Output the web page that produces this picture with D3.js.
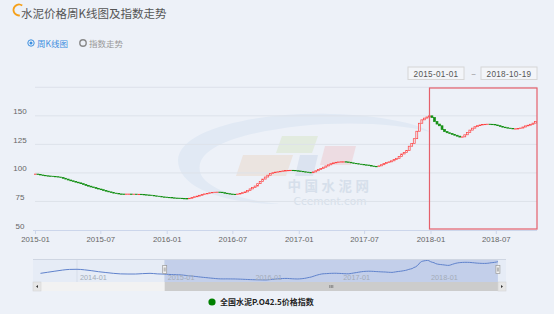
<!DOCTYPE html>
<html>
<head>
<meta charset="utf-8">
<script src="https://cdn.jsdelivr.net/npm/d3@7"></script>
<style>
body{margin:0;background:#edf1f8;}
svg{display:block;font-family:"Liberation Sans","Noto Sans CJK SC",sans-serif;}
</style>
</head>
<body>
<svg width="554" height="314"></svg>
<script>
// weekly closing values of the index, first week ends 2015-01-02
var firstWeek = "2015-01-02"
var closes = [
 99.0, 98.6, 98.2, 97.8, 97.5, 97.3, 97.1, 96.9, 96.7, 96.4,
 96.0, 95.3, 94.6, 93.8, 93.1, 92.5, 91.9, 91.3, 90.6, 89.9,
 89.1, 88.4, 87.7, 87.1, 86.5, 85.9, 85.3, 84.6, 84.0, 83.4,
 82.8, 82.3, 81.9, 81.6, 81.5, 81.4, 81.5, 81.5, 81.4, 81.4,
 81.3, 81.3, 81.1, 80.9, 80.7, 80.5, 80.2, 79.9, 79.6, 79.3,
 79.0, 78.8, 78.6, 78.4, 78.2, 78.0, 77.9, 77.8, 77.6, 77.5,
 77.4, 77.8, 78.5, 79.1, 79.7, 80.4, 81.1, 81.6, 82.1, 82.6,
 82.9, 83.1, 83.2, 83.1, 82.7, 82.2, 81.8, 81.5, 81.3, 81.2,
 81.5, 82.0, 82.7, 83.4, 84.6, 86.0, 87.2, 88.5, 90.6, 92.6,
 94.6, 96.4, 98.0, 99.4, 100.2, 100.7, 101.0, 101.4, 101.8, 102.0,
 102.2, 102.3, 102.2, 101.9, 101.7, 101.4, 101.0, 100.7, 100.4, 100.2,
 100.9, 101.9, 103.0, 104.0, 105.0, 106.1, 107.1, 108.1, 108.8, 109.3,
 109.6, 109.8, 109.8, 109.6, 109.3, 108.8, 108.4, 108.1, 107.7, 107.4,
 107.1, 106.9, 106.4, 106.0, 105.7, 105.5, 106.2, 107.2, 108.2, 109.0,
 109.7, 110.6, 111.8, 112.8, 114.5, 116.6, 118.0, 119.6, 123.4, 125.7,
 130.0, 136.5, 143.5, 146.5, 148.0, 149.0, 150.0, 148.5, 145.0, 142.8,
 141.3, 138.0, 136.2, 135.2, 134.5, 133.8, 133.0, 132.2, 131.4, 131.6,
 133.4, 135.5, 137.5, 139.2, 140.5, 141.4, 142.0, 142.4, 142.6, 142.7,
 142.6, 142.5, 142.0, 141.4, 140.8, 140.1, 139.6, 139.2, 138.9, 138.7,
 138.7, 138.8, 139.3, 140.2, 141.2, 141.8, 142.6, 143.6, 145.0
]

// earlier history shown only in the navigator
var navDates = ["2013-08-02","2013-09-01","2013-10-01","2013-11-01","2013-12-01","2014-01-01",
 "2014-02-01","2014-03-01","2014-04-01","2014-05-01","2014-06-01","2014-07-01",
 "2014-08-01","2014-09-01","2014-10-01","2014-11-01","2014-12-01"]
var navValues = [102, 106, 110, 114, 116.5, 117, 115, 112, 108, 105, 102, 100, 99.5, 99.5, 101, 102, 100]

var yTicks = [50, 75, 100, 125, 150, 175]
var xTicks = ["2015-01","2015-07","2016-01","2016-07","2017-01","2017-07","2018-01","2018-07"]
var navTicks = ["2014-01","2015-01","2016-01","2017-01","2018-01"]
var rangeDates = ["2015-01-01","2018-10-19"]
var boxStart = "2018-01-01"
var title = "水泥价格周K线图及指数走势"
var tabs = ["周K线图","指数走势"]
var legendLabel = "全国水泥P.O42.5价格指数"

var parseDay = d3.timeParse("%Y-%m-%d")
var parseMonth = d3.timeParse("%Y-%m")
var up = "#ff4242", down = "#138f13"

var candles = closes.map(function(c, i){
    var o = i == 0 ? c : closes[i-1]
    return {date: d3.timeDay.offset(parseDay(firstWeek), 7*i), open: o, close: c}
})

var svg = d3.select("svg")

// ---- header ----
svg.append("path")
    .attr("transform","translate(19,10)")
    .attr("fill","#f5a01a")
    .attr("d", d3.arc().innerRadius(4.6).outerRadius(6.4).startAngle(Math.PI*0.95).endAngle(Math.PI*2.2)())

svg.append("text")
    .attr("x",21).attr("y",18)
    .attr("font-family","'Noto Sans CJK SC'")
    .attr("font-size",11.5).attr("fill","#555")
    .text(title)

var tabX = [31, 83]
var tabG = svg.selectAll(".tab").data(tabs).enter().append("g").attr("class","tab")
tabG.append("circle")
    .attr("cx",function(d,i){return tabX[i]}).attr("cy",43).attr("r",3.2)
    .attr("fill","none")
    .attr("stroke",function(d,i){return i==0?"#3d8fe0":"#888"})
    .attr("stroke-width",function(d,i){return i==0?1:1.4})
tabG.filter(function(d,i){return i==0}).append("circle")
    .attr("cx",tabX[0]).attr("cy",43).attr("r",1.5).attr("fill","#3d8fe0")
tabG.append("text")
    .attr("x",function(d,i){return tabX[i]+6}).attr("y",46.5)
    .attr("font-family","'Noto Sans CJK SC'").attr("font-size",8.5)
    .attr("fill",function(d,i){return i==0?"#3d8fe0":"#999"})
    .text(function(d){return d})

var boxX = [408, 481]
var dateG = svg.selectAll(".dbox").data(rangeDates).enter().append("g").attr("class","dbox")
dateG.append("rect")
    .attr("x",function(d,i){return boxX[i]}).attr("y",67).attr("width",56).attr("height",12.5)
    .attr("fill","#f3f5f9").attr("stroke","#d6d6d6")
dateG.append("text")
    .attr("x",function(d,i){return boxX[i]+28}).attr("y",76.8)
    .attr("text-anchor","middle").attr("font-size",8.2).attr("fill","#555")
    .attr("letter-spacing",0.3)
    .text(function(d){return d})
svg.append("text").attr("x",473.5).attr("y",76.5).attr("text-anchor","middle")
    .attr("font-size",8).attr("fill","#888").text("~")

// ---- main chart ----
var plot = {left:35, right:537, top:87.3, bottom:230}
var xScale = d3.scaleTime()
    .domain([parseDay(rangeDates[0]), parseDay(rangeDates[1])])
    .range([plot.left, 535.5])
var yScale = d3.scaleLinear()
    .domain([50,175])
    .range([plot.bottom, plot.top])

// watermark
var wm = svg.append("g").attr("opacity",0.85)
wm.append("path")
    .attr("fill","#dfe8f4")
    .attr("d","M178,160 C180,128 260,112 330,114 C380,115 420,124 430,132 C400,124 350,121 300,126 C230,134 195,150 200,172 C204,188 240,200 280,204 C230,204 178,190 178,160 Z")
var quads = [
    {pts:"243,155 293,155 286,176 236,176", c:"#ebe2dc"},
    {pts:"282,136 318,136 312,153 276,153", c:"#e1eadb"},
    {pts:"300,155 318,155 313,176 295,176", c:"#d9e1ef"},
    {pts:"325,146 356,146 351,165 320,165", c:"#edd9df"}
]
wm.selectAll("polygon").data(quads).enter().append("polygon")
    .attr("points",function(d){return d.pts}).attr("fill",function(d){return d.c})
wm.append("text").attr("x",330).attr("y",190.5).attr("text-anchor","middle")
    .attr("font-family","'Noto Sans CJK SC'").attr("font-weight","bold")
    .attr("font-size",13.5).attr("letter-spacing",3.5).attr("fill","#d3dde9").text("中国水泥网")
wm.append("text").attr("x",330).attr("y",205).attr("text-anchor","middle")
    .attr("font-family","'DejaVu Sans'").attr("font-size",10.5)
    .attr("fill","#d3dde9").text("Ccement.com")

// grid
svg.append("g").selectAll("line").data(yTicks.slice(1)).enter().append("line")
    .attr("x1",plot.left).attr("x2",plot.right)
    .attr("y1",function(d){return yScale(d)}).attr("y2",function(d){return yScale(d)})
    .attr("stroke","#dde2ea")
svg.append("g").selectAll("text").data(yTicks.slice(0,-1)).enter().append("text")
    .attr("x",20).attr("y",function(d){return yScale(d)-1.5})
    .attr("text-anchor","middle").attr("font-size",8).attr("fill","#666")
    .text(function(d){return d})

var xAxis = d3.axisBottom(xScale)
    .tickValues(xTicks.map(function(d){return parseMonth(d)}))
    .tickFormat(d3.timeFormat("%Y-%m"))
    .tickSize(4).tickSizeOuter(0)
var xg = svg.append("g")
    .attr("transform","translate(0,"+plot.bottom+")")
    .call(xAxis)
xg.select(".domain").attr("d","M"+(plot.left-2)+",0.5H"+plot.right).attr("stroke","#ccd6eb")
xg.selectAll(".tick line").attr("stroke","#ccd6eb")
xg.selectAll(".tick text").attr("font-size",7.8).attr("fill","#666").attr("y",6.5)
    .attr("font-family","'Liberation Sans'")

// candles
var bw = 1.9
svg.append("g").selectAll("rect").data(candles).enter().append("rect")
    .attr("x",function(d){return xScale(d.date)-bw/2})
    .attr("y",function(d){return yScale(Math.max(d.open,d.close))})
    .attr("width",bw)
    .attr("height",function(d){return Math.max(0.4, yScale(Math.min(d.open,d.close))-yScale(Math.max(d.open,d.close)))})
    .attr("fill",function(d){return d.close>=d.open?"#edf1f8":down})
    .attr("stroke",function(d){return d.close>=d.open?up:down})
    .attr("stroke-width",0.7)

// highlight box
svg.append("rect")
    .attr("x",xScale(parseDay(boxStart))-1).attr("y",plot.top+0.7)
    .attr("width",plot.right-xScale(parseDay(boxStart))+1).attr("height",plot.bottom-plot.top-1.7)
    .attr("fill","none").attr("stroke","#e5606b").attr("stroke-width",1.2)

// ---- navigator ----
var nav = {left:33, right:506, top:259, bottom:282}
var navX = d3.scaleTime()
    .domain([parseMonth(navTicks[0]), parseMonth(navTicks[4])])
    .range([77,428])
var navY = d3.scaleLinear().domain([70,155]).range([nav.bottom, nav.top])
var navData = navDates.map(function(d,i){return {date:parseDay(d), close:navValues[i]}}).concat(candles)
var selX0 = navX(parseDay(rangeDates[0])), selX1 = navX(parseDay(rangeDates[1]))

svg.append("rect").attr("x",nav.left).attr("y",nav.top).attr("width",nav.right-nav.left)
    .attr("height",nav.bottom-nav.top).attr("fill","#e6ecf6")
svg.append("g").selectAll("line").data(navTicks).enter().append("line")
    .attr("x1",function(d){return navX(parseMonth(d))}).attr("x2",function(d){return navX(parseMonth(d))})
    .attr("y1",nav.top).attr("y2",nav.bottom).attr("stroke","#d7deea")
svg.append("rect").attr("x",selX0).attr("y",nav.top).attr("width",selX1-selX0)
    .attr("height",nav.bottom-nav.top).attr("fill","#c3cfea")
svg.append("path").datum(navData)
    .attr("fill","none").attr("stroke","#5f82cc").attr("stroke-width",1)
    .attr("d", d3.line().x(function(d){return navX(d.date)}).y(function(d){return navY(d.close)}).curve(d3.curveMonotoneX))
svg.append("line").attr("x1",nav.left).attr("x2",nav.right).attr("y1",nav.top+0.5).attr("y2",nav.top+0.5)
    .attr("stroke","#cfd6e2")
svg.append("g").selectAll("text").data(navTicks).enter().append("text")
    .attr("x",function(d){return navX(parseMonth(d))+3}).attr("y",280)
    .attr("font-size",7.3).attr("fill","#a4acb8")
    .text(function(d){return d})

// handles
var handles = [selX0, selX1]
var hg = svg.append("g").selectAll("g").data(handles).enter().append("g")
    .attr("transform",function(d){return "translate("+d+",0)"})
hg.append("rect").attr("x",-2).attr("y",265.5).attr("width",4).attr("height",8)
    .attr("fill","#f2f2f2").attr("stroke","#999").attr("stroke-width",0.7)
hg.append("line").attr("x1",-0.5).attr("x2",-0.5).attr("y1",267.5).attr("y2",271.5).attr("stroke","#777").attr("stroke-width",0.5)
hg.append("line").attr("x1",0.5).attr("x2",0.5).attr("y1",267.5).attr("y2",271.5).attr("stroke","#777").attr("stroke-width",0.5)

// scrollbar
var sb = {top:282, h:9}
svg.append("rect").attr("x",nav.left).attr("y",sb.top).attr("width",nav.right-nav.left)
    .attr("height",sb.h).attr("fill","#f2f2f2")
svg.append("rect").attr("x",selX0).attr("y",sb.top).attr("width",selX1-selX0)
    .attr("height",sb.h).attr("fill","#cccccc")
var arrows = [nav.left, nav.right-8]
svg.append("g").selectAll("rect").data(arrows).enter().append("rect")
    .attr("x",function(d){return d}).attr("y",sb.top).attr("width",8).attr("height",sb.h)
    .attr("fill","#e6e6e6").attr("stroke","#d0d0d0").attr("stroke-width",0.5)
svg.append("path").attr("fill","#333")
    .attr("d","M"+(nav.left+3)+","+(sb.top+4.5)+"l2,-1.5v3z M"+(nav.right-3)+","+(sb.top+4.5)+"l-2,-1.5v3z")
var gripX = (selX0+selX1)/2
svg.append("g").selectAll("line").data([-1.5,0,1.5]).enter().append("line")
    .attr("x1",function(d){return gripX+d}).attr("x2",function(d){return gripX+d})
    .attr("y1",sb.top+3).attr("y2",sb.top+6).attr("stroke","#555").attr("stroke-width",0.6)

// legend
svg.append("circle").attr("cx",212).attr("cy",302).attr("r",3.6).attr("fill","#008000")
svg.append("text").attr("x",220).attr("y",305)
    .attr("font-family","'Noto Sans CJK SC'").attr("font-weight","bold")
    .attr("font-size",8).attr("fill","#222")
    .text(legendLabel)
</script>
</body>
</html>
